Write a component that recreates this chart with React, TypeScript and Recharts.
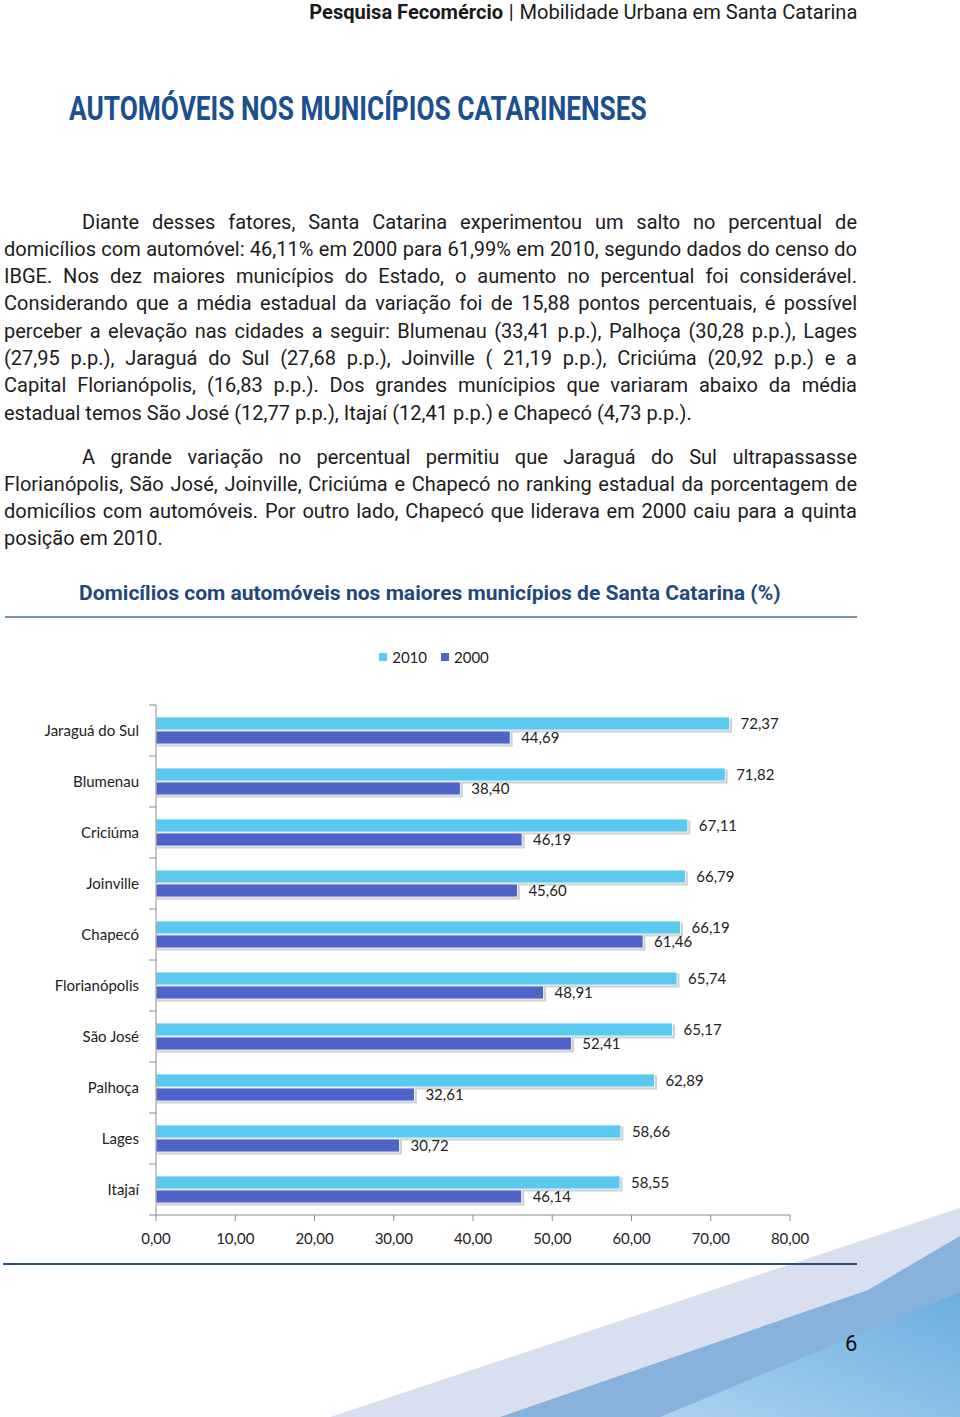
import * as React from "react"
import { BarChart, Bar, XAxis, YAxis, Legend, LabelList } from "recharts"

const cities = ["Jaraguá do Sul", "Blumenau", "Criciúma", "Joinville", "Chapecó", "Florianópolis", "São José", "Palhoça", "Lages", "Itajaí"]
const values2010 = [72.37, 71.82, 67.11, 66.79, 66.19, 65.74, 65.17, 62.89, 58.66, 58.55]
const values2000 = [44.69, 38.40, 46.19, 45.60, 61.46, 48.91, 52.41, 32.61, 30.72, 46.14]
const seriesNames = ["2010", "2000"]
const xTicks = [0, 10, 20, 30, 40, 50, 60, 70, 80]

const paragraph1 = [
  "Diante desses fatores, Santa Catarina experimentou um salto no percentual de",
  "domicílios com automóvel: 46,11% em 2000 para 61,99% em 2010, segundo dados do censo do",
  "IBGE. Nos dez maiores municípios do Estado, o aumento no percentual foi considerável.",
  "Considerando que a média estadual da variação foi de 15,88 pontos percentuais, é possível",
  "perceber a elevação nas cidades a seguir: Blumenau (33,41 p.p.), Palhoça (30,28 p.p.), Lages",
  "(27,95 p.p.), Jaraguá do Sul (27,68 p.p.), Joinville ( 21,19 p.p.), Criciúma (20,92 p.p.) e a",
  "Capital Florianópolis, (16,83 p.p.). Dos grandes munícipios que variaram abaixo da média",
  "estadual temos São José (12,77 p.p.), Itajaí (12,41 p.p.) e Chapecó (4,73 p.p.).",
]
const paragraph2 = [
  "A grande variação no percentual permitiu que Jaraguá do Sul ultrapassasse",
  "Florianópolis, São José, Joinville, Criciúma e Chapecó no ranking estadual da porcentagem de",
  "domicílios com automóveis. Por outro lado, Chapecó que liderava em 2000 caiu para a quinta",
  "posição em 2010.",
]

const data = cities.map((city, i) => ({ city, v2010: values2010[i], v2000: values2000[i] }))

const LIGHT = "#5BC8F0"
const DARK = "#4F63C8"
const AXIS = "#8c8c8c"
const CHART_FONT = "Lato, 'Open Sans', sans-serif"
const Y_TICK_SIZE = 7
const Y_TICK_MARGIN = 9

const fmt = (v: number) => v.toFixed(2).replace(".", ",")

const ShadowBar = (props: any) => {
  const { x, y, width, height, fill } = props
  if (!width) return null
  return (
    <g>
      <rect x={x + 1} y={y + 1.5} width={width + 1.5} height={height + 1} fill="#8a8a8a" opacity={0.4} />
      <rect x={x} y={y} width={width} height={height} fill={fill} stroke="#fff" strokeWidth={0.8} />
    </g>
  )
}

const CityTick = (props: any) => {
  const { x, y, payload, index, visibleTicksCount } = props
  const half = payload.offset || 25.5
  const ax = x + Y_TICK_SIZE + Y_TICK_MARGIN
  const last = visibleTicksCount ? index === visibleTicksCount - 1 : payload.value === cities[cities.length - 1]
  return (
    <g>
      <line x1={ax - Y_TICK_SIZE} x2={ax} y1={y - half} y2={y - half} stroke={AXIS} />
      {last && <line x1={ax - Y_TICK_SIZE} x2={ax} y1={y + half} y2={y + half} stroke={AXIS} />}
      <text x={x - 1} y={y} dy="0.35em" textAnchor="end" fill="#222" fontSize={15} fontFamily={CHART_FONT}>
        {payload.value}
      </text>
    </g>
  )
}

const LegendBox = (props: any) => {
  const items = props.payload || []
  const ordered = seriesNames.map((n) => items.find((it: any) => it.value === n)).filter(Boolean)
  return (
    <div style={{ display: "flex", justifyContent: "center", alignItems: "center", height: 20, gap: 14, fontFamily: CHART_FONT, fontSize: 15, color: "#222" }}>
      {ordered.map((it: any) => (
        <span key={it.value} style={{ display: "flex", alignItems: "center" }}>
          <span style={{ display: "inline-block", width: 8, height: 8, background: it.color, marginRight: 5 }} />
          {it.value}
        </span>
      ))}
    </div>
  )
}

const Paragraph = ({ lines, top }: { lines: string[]; top: number }) => (
  <div style={{ position: "absolute", left: 4, top, width: 853, fontSize: 20, lineHeight: "27.3px", color: "#1c1c1c" }}>
    {lines.map((line, i) => {
      const isLast = i === lines.length - 1
      return (
        <div
          key={i}
          style={{
            whiteSpace: "nowrap",
            textAlign: isLast ? "left" : "justify",
            textAlignLast: isLast ? "left" : "justify",
            paddingLeft: i === 0 ? 78 : 0,
          }}
        >
          {line}
        </div>
      )
    })}
  </div>
)

export default function App() {
  return (
    <div style={{ position: "absolute", left: 0, top: 0, width: 960, height: 1417, overflow: "hidden", background: "#fff", fontFamily: "Roboto, sans-serif" }}>
      {/* page decoration, bottom right */}
      <svg width={960} height={1417} style={{ position: "absolute", left: 0, top: 0 }}>
        <defs>
          <linearGradient id="deco" x1="0" y1="1" x2="1" y2="0">
            <stop offset="0%" stopColor="#acd2ef" />
            <stop offset="100%" stopColor="#6aaedf" />
          </linearGradient>
        </defs>
        <polygon points="330,1417 960,1208 960,1417" fill="#d9dfee" />
        <polygon points="500,1417 868,1290 960,1236 960,1417" fill="#86b2dc" />
        <polygon points="660,1417 960,1292 960,1417" fill="url(#deco)" />
      </svg>

      <div style={{ position: "absolute", right: 103, top: 2, fontSize: 21, lineHeight: "21px", color: "#1a1a1a", whiteSpace: "nowrap", transform: "scaleX(0.956)", transformOrigin: "right" }}>
        <span style={{ fontWeight: 700 }}>Pesquisa Fecomércio</span>
        <span style={{ margin: "0 6px" }}>|</span>
        <span>Mobilidade Urbana em Santa Catarina</span>
      </div>

      <div style={{ position: "absolute", left: 69, top: 91, fontSize: 34, lineHeight: "34px", fontWeight: 700, color: "#1b4f8f", whiteSpace: "nowrap", transform: "scaleX(0.773)", transformOrigin: "left" }}>
        AUTOMÓVEIS NOS MUNICÍPIOS CATARINENSES
      </div>

      <Paragraph lines={paragraph1} top={208.5} />
      <Paragraph lines={paragraph2} top={443.5} />

      <div style={{ position: "absolute", left: 79, top: 583, fontSize: 21, lineHeight: "21px", fontWeight: 700, color: "#1f497d", whiteSpace: "nowrap", transform: "scaleX(1.003)", transformOrigin: "left" }}>
        Domicílios com automóveis nos maiores municípios de Santa Catarina (%)
      </div>
      <div style={{ position: "absolute", left: 5, top: 616, width: 852, height: 2, background: "#7a93ae" }} />

      <div style={{ position: "absolute", left: 0, top: 630 }}>
        <BarChart
          width={860}
          height={630}
          data={data}
          layout="vertical"
          barSize={13}
          barGap={1}
          margin={{ top: 55, right: 70, left: 0, bottom: 5 }}
        >
          <Legend verticalAlign="top" content={<LegendBox />} wrapperStyle={{ top: 17, left: 0, width: 868 }} />
          <XAxis
            type="number"
            domain={[0, 80]}
            ticks={xTicks}
            tickFormatter={fmt}
            height={40}
            axisLine={{ stroke: AXIS }}
            tickLine={{ stroke: AXIS }}
            tickSize={6}
            tickMargin={12}
            tick={{ fill: "#222", fontSize: 15, fontFamily: CHART_FONT }}
          />
          <YAxis
            type="category"
            dataKey="city"
            width={156}
            axisLine={{ stroke: AXIS }}
            tickLine={false}
            tickSize={Y_TICK_SIZE}
            tickMargin={Y_TICK_MARGIN}
            interval={0}
            tick={<CityTick />}
          />
          <Bar dataKey="v2010" name="2010" fill={LIGHT} shape={<ShadowBar />} isAnimationActive={false}>
            <LabelList dataKey="v2010" position="right" offset={11} formatter={(v: any) => fmt(Number(v))} fill="#222" fontSize={15} fontFamily={CHART_FONT} />
          </Bar>
          <Bar dataKey="v2000" name="2000" fill={DARK} shape={<ShadowBar />} isAnimationActive={false}>
            <LabelList dataKey="v2000" position="right" offset={11} formatter={(v: any) => fmt(Number(v))} fill="#222" fontSize={15} fontFamily={CHART_FONT} />
          </Bar>
        </BarChart>
      </div>

      <div style={{ position: "absolute", left: 3, top: 1263, width: 854, height: 1.5, background: "#2e4e7e" }} />

      <div style={{ position: "absolute", left: 845, top: 1333, fontSize: 22, lineHeight: "22px", color: "#111" }}>6</div>
    </div>
  )
}
